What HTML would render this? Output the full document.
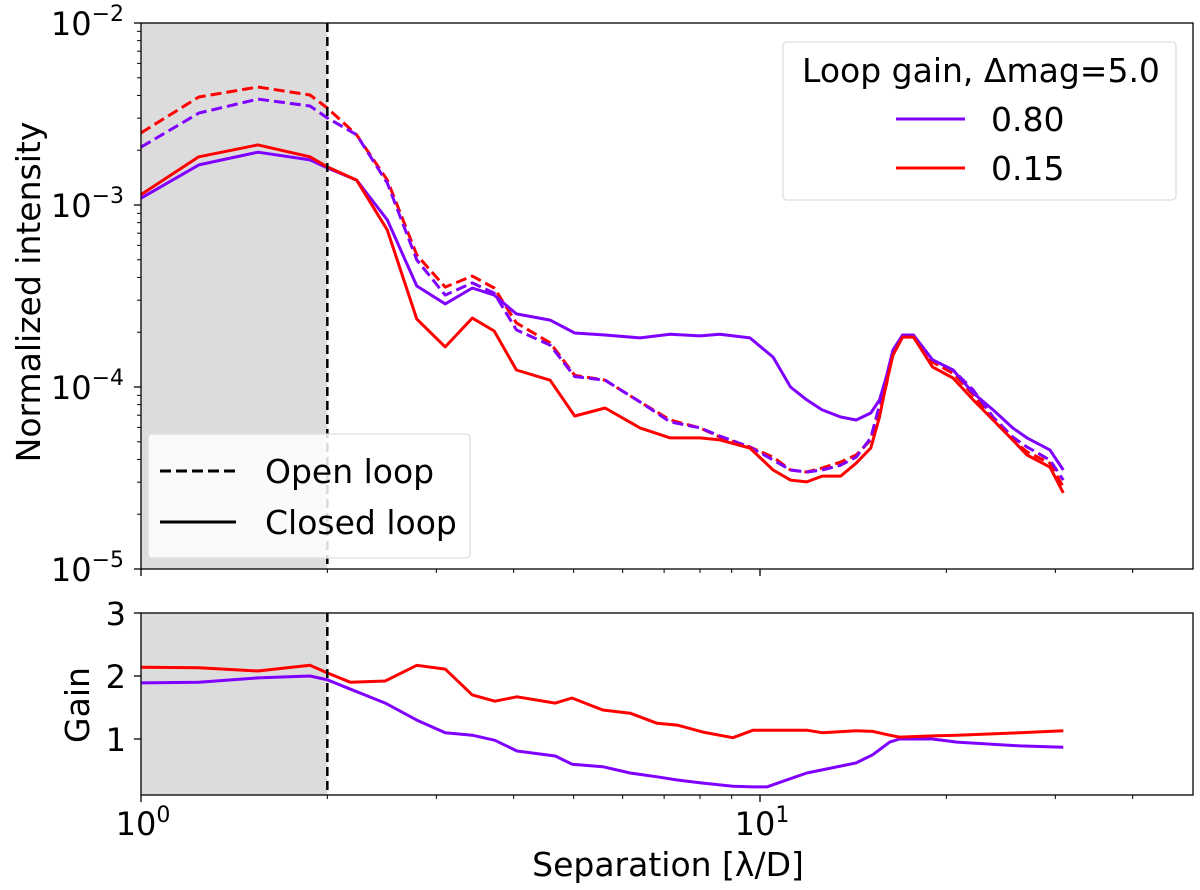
<!DOCTYPE html>
<html><head><meta charset="utf-8">
<style>
html,body{margin:0;padding:0;background:#fff;}
svg{display:block;font-family:"DejaVu Sans","Liberation Sans",sans-serif;}
</style></head>
<body>
<svg id="chart" width="1200" height="890" viewBox="0 0 1200 890" xmlns="http://www.w3.org/2000/svg">
<g id="topPanel"></g>
<g id="botPanel"></g>
<g id="legendGroup"></g>
</svg>
<script>
// ---- data ----
const sepX = [1.00,1.24,1.545,1.875,2.00,2.23,2.50,2.79,3.10,3.43,3.72,4.04,4.58,5.02,5.62,6.40,7.16,8.00,8.61,9.63,10.5,11.2,11.9,12.6,13.5,14.3,15.1,15.6,16.0,16.4,17.0,17.7,19.0,20.5,22.1,23.8,25.6,27.0,29.4,30.9];
const closed080 = [1.09e-3,1.66e-3,1.95e-3,1.77e-3,1.60e-3,1.37e-3,8.28e-4,3.59e-4,2.86e-4,3.50e-4,3.20e-4,2.52e-4,2.33e-4,1.98e-4,1.93e-4,1.86e-4,1.95e-4,1.91e-4,1.95e-4,1.86e-4,1.46e-4,1.00e-4,8.49e-5,7.48e-5,6.84e-5,6.59e-5,7.20e-5,8.49e-5,1.14e-4,1.60e-4,1.93e-4,1.93e-4,1.41e-4,1.24e-4,9.27e-5,7.48e-5,5.96e-5,5.25e-5,4.51e-5,3.50e-5];
const closed015 = [1.14e-3,1.84e-3,2.14e-3,1.84e-3,1.62e-3,1.37e-3,7.29e-4,2.36e-4,1.66e-4,2.39e-4,2.03e-4,1.24e-4,1.09e-4,6.93e-5,7.67e-5,5.96e-5,5.25e-5,5.25e-5,5.12e-5,4.62e-5,3.50e-5,3.08e-5,3.01e-5,3.24e-5,3.24e-5,3.82e-5,4.62e-5,6.84e-5,1.05e-4,1.50e-4,1.88e-4,1.88e-4,1.29e-4,1.12e-4,8.49e-5,6.59e-5,5.12e-5,4.23e-5,3.63e-5,2.62e-5];
const open080 = [2.08e-3,3.20e-3,3.82e-3,3.50e-3,3.01e-3,2.43e-3,1.32e-3,4.99e-4,3.20e-4,3.73e-4,3.28e-4,2.06e-4,1.70e-4,1.14e-4,1.09e-4,8.28e-5,6.43e-5,5.96e-5,5.38e-5,4.68e-5,3.97e-5,3.50e-5,3.41e-5,3.50e-5,3.72e-5,4.12e-5,5.25e-5,7.96e-5,1.09e-4,1.56e-4,1.91e-4,1.88e-4,1.41e-4,1.24e-4,9.63e-5,6.84e-5,5.31e-5,4.68e-5,3.97e-5,3.08e-5];
const open015 = [2.49e-3,3.92e-3,4.45e-3,4.02e-3,3.41e-3,2.43e-3,1.37e-3,5.31e-4,3.54e-4,4.07e-4,3.50e-4,2.25e-4,1.75e-4,1.16e-4,1.09e-4,8.28e-5,6.59e-5,5.96e-5,5.31e-5,4.68e-5,4.12e-5,3.50e-5,3.41e-5,3.59e-5,3.87e-5,4.23e-5,5.12e-5,7.48e-5,1.03e-4,1.56e-4,1.93e-4,1.88e-4,1.37e-4,1.19e-4,9.04e-5,6.59e-5,5.12e-5,4.40e-5,3.82e-5,2.82e-5];
const gainX = [1.00,1.24,1.545,1.875,2.00,2.18,2.48,2.79,3.10,3.43,3.73,4.05,4.67,4.97,5.57,6.17,6.82,7.35,8.09,9.04,9.75,10.26,10.9,11.9,12.6,14.3,15.2,16.2,16.8,19.0,20.8,26.3,30.9];
const gain015 = [2.14,2.13,2.08,2.17,2.05,1.90,1.92,2.17,2.11,1.70,1.60,1.67,1.57,1.65,1.46,1.41,1.25,1.22,1.11,1.02,1.14,1.14,1.14,1.14,1.10,1.13,1.12,1.06,1.03,1.05,1.06,1.10,1.13];
const gain080 = [1.89,1.90,1.97,2.00,1.94,1.79,1.57,1.30,1.10,1.06,0.98,0.81,0.73,0.60,0.56,0.46,0.40,0.35,0.30,0.25,0.24,0.24,0.33,0.46,0.51,0.62,0.75,0.95,1.00,1.00,0.95,0.89,0.87];
const yDecades = [-2,-3,-4,-5];
const gainTicks = [1,2,3];
const xMajor = [0,1];
const xMinor = [2,3,4,5,6,7,8,9,20,30,40];
const maskEdge = 2;

// ---- scales ----
const AL=141, AR=1193, TT=23, TB=569, BT=613, BB=795;
const PUR="#8000ff", RED="#ff0000";
function sx(x){return AL+619*Math.log10(x);}
function syTop(v){return TT+182*(-2-Math.log10(v));}
function syBot(g){return BT+63*(3-g);}
const NS="http://www.w3.org/2000/svg";
function mk(tag,attrs,parent){const e=document.createElementNS(NS,tag);for(const k in attrs)e.setAttribute(k,attrs[k]);parent.appendChild(e);return e;}
const topG=document.getElementById('topPanel'), botG=document.getElementById('botPanel'), legG=document.getElementById('legendGroup');

function panel(g,y0,y1,name){
  const r=mk('rect',{x:AL,y:y0,width:sx(maskEdge)-AL,height:y1-y0,fill:'#dcdcdc'},g);
  
  
}
panel(topG,TT,TB,'top');
panel(botG,BT,BB,'bottom');

function line(g,xs,ys,fx,fy,color,dash,name){
  let d='';
  xs.forEach((x,i)=>{d+=(i?'L':'M')+fx(x).toFixed(1)+','+fy(ys[i]).toFixed(1);});
  const p=mk('path',{d:d,fill:'none',stroke:color,'stroke-width':3,'stroke-linejoin':'round'},g);
  if(dash)p.setAttribute('stroke-dasharray','11,5');
  
  
}
line(topG,sepX,open015,sx,syTop,RED,true,'open-loop-0.15');
line(topG,sepX,open080,sx,syTop,PUR,true,'open-loop-0.80');
line(topG,sepX,closed080,sx,syTop,PUR,false,'closed-loop-0.80');
line(topG,sepX,closed015,sx,syTop,RED,false,'closed-loop-0.15');
line(botG,gainX,gain080,sx,syBot,PUR,false,'gain-0.80');
line(botG,gainX,gain015,sx,syBot,RED,false,'gain-0.15');

[[TT,TB,topG],[BT,BB,botG]].forEach(([a,b,g])=>{
  const l=mk('line',{x1:sx(maskEdge),x2:sx(maskEdge),y1:a,y2:b,stroke:'#000','stroke-width':2.5,'stroke-dasharray':'9,5'},g);
  
  
});

[[topG,TT,TB],[botG,BT,BB]].forEach(([g,a,b])=>{
  const f=mk('rect',{x:AL,y:a,width:AR-AL,height:b-a,fill:'none',stroke:'#000','stroke-width':1.3},g);
  
  
});

[[topG,TB],[botG,BB]].forEach(([g,yb])=>{
  xMajor.forEach(e=>{const t=mk('line',{x1:sx(Math.pow(10,e)),x2:sx(Math.pow(10,e)),y1:yb,y2:yb+7,stroke:'#000','stroke-width':1.3},g);
    });
  xMinor.forEach(v=>{const t=mk('line',{x1:sx(v),x2:sx(v),y1:yb,y2:yb+4,stroke:'#000','stroke-width':1},g);
    });
});
xMajor.forEach(e=>{
  const t=mk('text',{x:sx(Math.pow(10,e))+2,y:835,'font-size':32,'text-anchor':'middle'},botG);
  
  t.textContent='10';
  const s=mk('tspan',{dy:-13,'font-size':22},t);s.textContent=String(e);
});
const xl=mk('text',{x:668,y:876,'font-size':33,'text-anchor':'middle'},botG);

xl.textContent='Separation [λ/D]';

yDecades.forEach(e=>{
  const y=TT+182*(-2-e);
  const t=mk('line',{x1:AL-7,x2:AL,y1:y,y2:y,stroke:'#000','stroke-width':1.3},topG);
  
  if(e>-5){for(let m=2;m<10;m++){const yy=syTop(m*Math.pow(10,e-1));
    const mt=mk('line',{x1:AL-4,x2:AL,y1:yy,y2:yy,stroke:'#000','stroke-width':1},topG);
    }}
  const lb=mk('text',{x:124,y:y+12,'font-size':32,'text-anchor':'end'},topG);
  
  lb.textContent='10';
  const s=mk('tspan',{dy:-14,'font-size':22},lb);s.textContent='−'+(-e);
});
const yl=mk('text',{x:0,y:0,'font-size':33,'text-anchor':'middle',transform:'translate(40,292) rotate(-90)'},topG);

yl.textContent='Normalized intensity';

gainTicks.forEach(g=>{
  const y=syBot(g);
  const t=mk('line',{x1:AL-7,x2:AL,y1:y,y2:y,stroke:'#000','stroke-width':1.3},botG);
  
  const lb=mk('text',{x:126,y:y+12,'font-size':32,'text-anchor':'end'},botG);
  
  lb.textContent=String(g);
});
const gl=mk('text',{x:0,y:0,'font-size':33,'text-anchor':'middle',transform:'translate(89,705) rotate(-90)'},botG);

gl.textContent='Gain';

const b1=mk('rect',{x:783,y:42,width:393,height:158,rx:4,fill:'#fff','fill-opacity':0.85,stroke:'#ddd','stroke-width':1.3},legG);

const t1=mk('text',{x:981,y:82,'font-size':33,'text-anchor':'middle'},legG);

t1.textContent='Loop gain, Δmag=5.0';
[['0.80',PUR,119],['0.15',RED,168]].forEach(([lab,c,y])=>{
  const l=mk('line',{x1:896,x2:965,y1:y,y2:y,stroke:c,'stroke-width':3},legG);
  
  const t=mk('text',{x:991,y:y+12,'font-size':33},legG);
  
  t.textContent=lab;
});
const b2=mk('rect',{x:148,y:434,width:322,height:124,rx:4,fill:'#fff','fill-opacity':0.85,stroke:'#ddd','stroke-width':1.3},legG);

[['Open loop',true,471],['Closed loop',false,522]].forEach(([lab,dash,y])=>{
  const l=mk('line',{x1:160,x2:236,y1:y,y2:y,stroke:'#000','stroke-width':3},legG);
  if(dash)l.setAttribute('stroke-dasharray','11,5');
  
  const t=mk('text',{x:265,y:y+12,'font-size':33},legG);
  
  t.textContent=lab;
});
</script>
</body></html>
